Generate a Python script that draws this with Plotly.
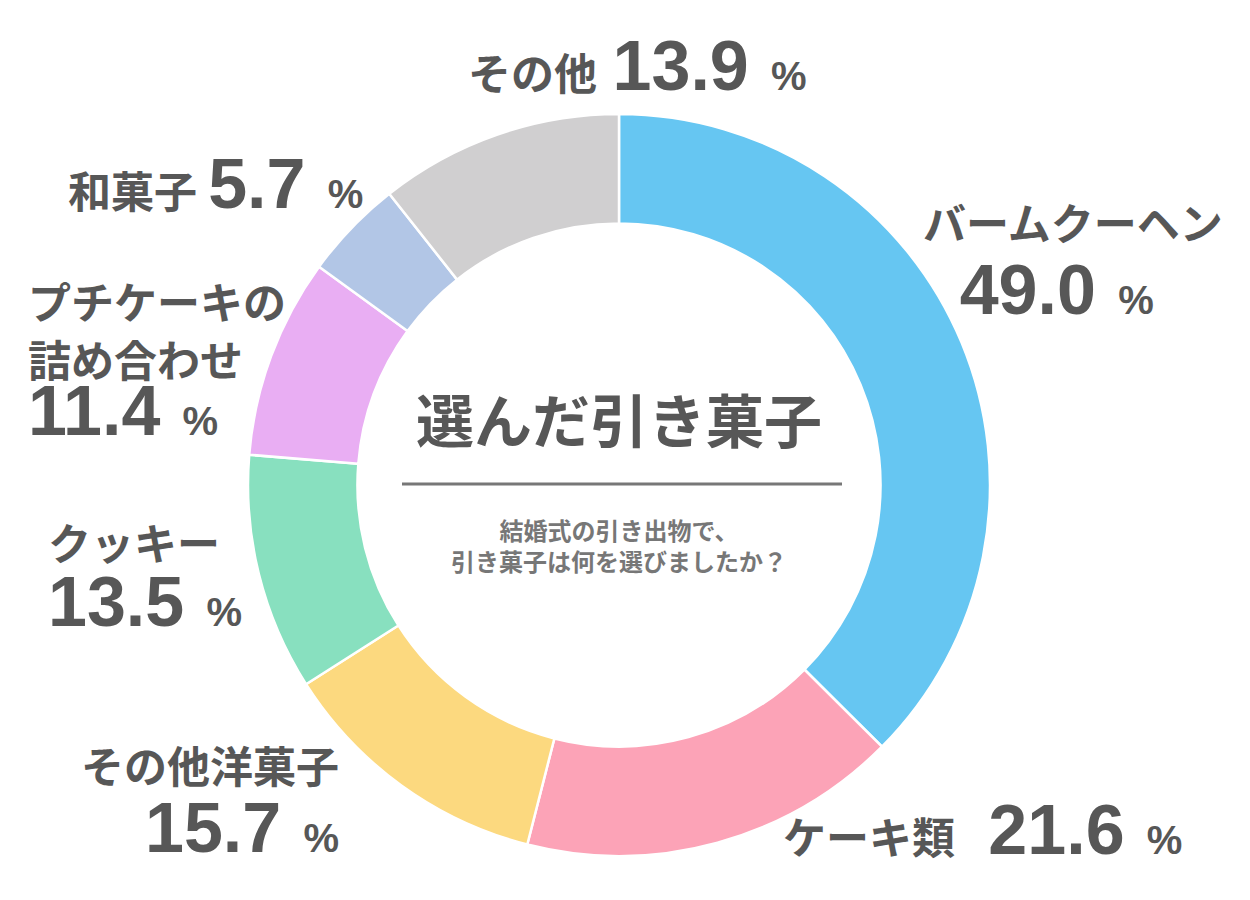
import plotly.graph_objects as go

categories = ["バームクーヘン", "ケーキ類", "その他洋菓子", "クッキー",
              "プチケーキの詰め合わせ", "和菓子", "その他"]
values = [49.0, 21.6, 15.7, 13.5, 11.4, 5.7, 13.9]
colors = ["#66c6f2", "#fca3b7", "#fcd97f", "#88e0bf", "#e9aef3", "#b2c6e6", "#d0cfd0"]

W, H = 1250, 900
OFF = 8  # page body margin
JP = "Noto Sans CJK JP"
NUM = "Liberation Sans"
TXT = "#575757"

cx, cy, R = 619 - OFF, 485 - OFF, 371

def X(px):
    return (px - OFF) / W

def Y(py):
    return 1 - (py - OFF) / H

fig = go.Figure(go.Pie(
    labels=categories, values=values, sort=False, direction="clockwise",
    rotation=0, hole=0.705, textinfo="none", hoverinfo="label+value",
    marker=dict(colors=colors, line=dict(color="white", width=2.5)),
    domain=dict(x=[(cx - R) / W, (cx + R) / W], y=[1 - (cy + R) / H, 1 - (cy - R) / H]),
    showlegend=False,
))

def jp(t):
    return f"<span style='font-family:{JP};font-size:43px;font-weight:bold'>{t}</span>"

def big(v):
    return f"<span style='font-family:{NUM};font-size:70px;font-weight:bold'>{v:.1f}</span>"

def pct():
    return f"<span style='font-family:{NUM};font-size:40px;font-weight:bold'>&nbsp;&nbsp;%</span>"

def gap(n, size=40):
    return f"<span style='font-family:{NUM};font-size:{size}px'>" + "&nbsp;" * n + "</span>"

ann = []
def add(text, px, py, size=43, anchor="left", align="left"):
    ann.append(dict(text=text, x=X(px), y=Y(py), xref="paper", yref="paper",
                    xanchor=anchor, yanchor="middle", align=align, showarrow=False,
                    font=dict(family=JP, size=size, color=TXT, weight="bold")))

add(jp("その他") + gap(2, 28) + big(values[6]) + pct(), 466, 66)
add(jp("和菓子") + gap(1) + big(values[5]) + pct(), 66, 184)
add(jp("プチケーキの") + "<br>" + jp("詰め合わせ") + "<br>" + big(values[4]) + pct(),
    26, 359, size=44.6)
add(jp("クッキー") + "<br>" + big(values[3]) + pct(), 46, 575, size=50.8)
add(jp("その他洋菓子") + "<br>" + gap(1, 30) + big(values[2]) + pct(), 341, 800, size=53,
    anchor="right", align="right")
add(jp("ケーキ類") + gap(3) + big(values[1]) + pct(), 781, 830)
add(jp("バームクーヘン") + "<br>" + gap(3, 44) + big(values[0]) + pct(), 921, 259, size=57)

# center text
ann.append(dict(text="選んだ引き菓子", x=X(619), y=Y(418), xref="paper", yref="paper",
                xanchor="center", yanchor="middle", showarrow=False,
                font=dict(family=JP, size=58, color=TXT, weight="bold")))
ann.append(dict(text="結婚式の引き出物で、<br>引き菓子は何を選びましたか？", x=X(619), y=Y(545),
                xref="paper", yref="paper", xanchor="center", yanchor="middle", showarrow=False,
                font=dict(family=JP, size=24, color="#777777", weight="bold")))

fig.update_layout(
    width=W, height=H, margin=dict(l=0, r=0, t=0, b=0),
    paper_bgcolor="white", plot_bgcolor="white",
    annotations=ann,
    shapes=[dict(type="line", xref="paper", yref="paper",
                 x0=X(402), x1=X(842), y0=Y(484), y1=Y(484),
                 line=dict(color="#777777", width=3))],
)

fig.write_html("out.html")
